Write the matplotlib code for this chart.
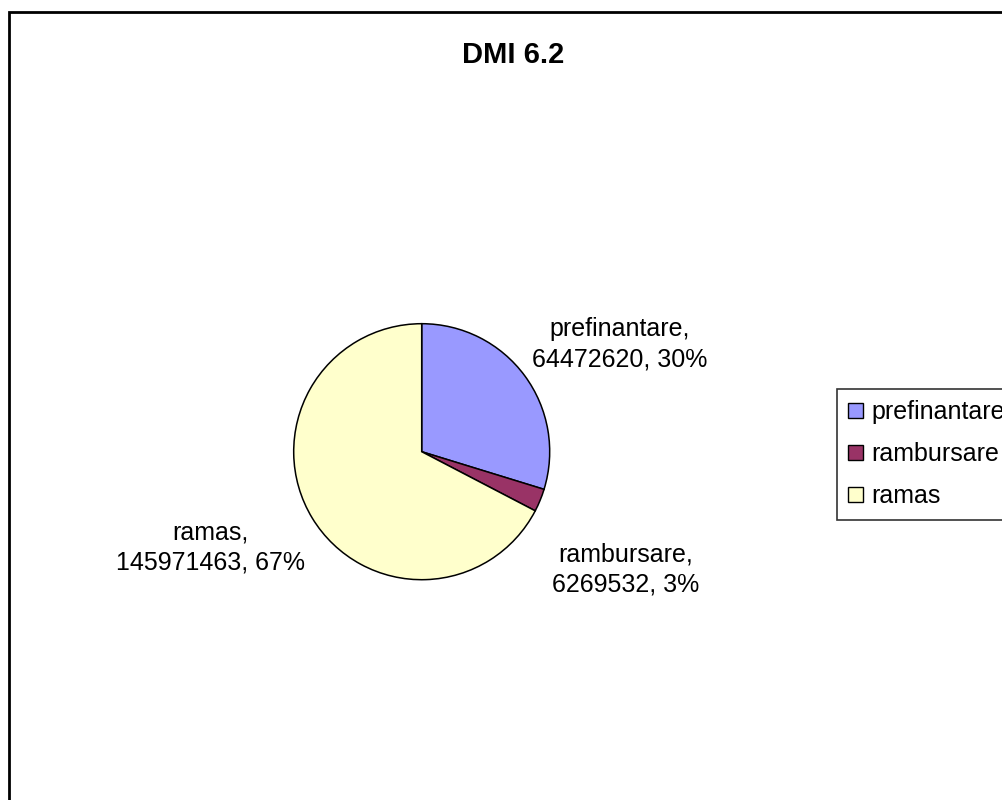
import matplotlib
matplotlib.use("Agg")
import matplotlib.pyplot as plt
from matplotlib.patches import Rectangle, Patch

# --- Dati ---
titolo = "DMI 6.2"
categorie = ["prefinantare", "rambursare", "ramas"]
valori = [64472620, 6269532, 145971463]
colori = ["#9999FF", "#993366", "#FFFFCC"]

# posizione etichette (in raggi, rispetto al centro della torta)
pos_etichette = [(1.55, 0.84), (1.59, -0.92), (-1.65, -0.75)]

plt.rcParams["font.family"] = ["Liberation Sans", "DejaVu Sans"]

W, H = 1003, 800
fig = plt.figure(figsize=(W / 100, H / 100), dpi=100)

# --- Cornice del grafico (esce dai bordi a destra e in basso) ---
fig.patches.append(Rectangle((9 / W, -0.05), 1.2, 1 - 12 / H + 0.05,
                             transform=fig.transFigure, fill=False,
                             edgecolor="black", linewidth=2.0))

# --- Torta ---
cx, cy, r = 421.7, 451.7, 128
ax = fig.add_axes([(cx - r) / W, (H - cy - r) / H, 2 * r / W, 2 * r / H])
ax.pie(valori, colors=colori, startangle=90, counterclock=False,
       wedgeprops=dict(edgecolor="black", linewidth=1.1))
ax.set_xlim(-1, 1)
ax.set_ylim(-1, 1)
ax.set_aspect("auto")
ax.axis("off")

totale = sum(valori)
for nome, v, (x, y) in zip(categorie, valori, pos_etichette):
    ax.text(x, y, f"{nome},\n{v}, {100 * v / totale:.0f}%", ha="center",
            va="center", fontsize=18, linespacing=1.3)

fig.text(513 / W, 1 - 55 / H, titolo, ha="center", va="center",
         fontsize=21, fontweight="bold")

# --- Legenda ---
maniglie = [Patch(facecolor=c, edgecolor="black", linewidth=1.0) for c in colori]
leg = fig.legend(maniglie, categorie, loc="upper left",
                 bbox_to_anchor=(837 / W, 1 - 389 / H), fontsize=18,
                 frameon=True, fancybox=False, borderaxespad=0,
                 handlelength=0.6, handleheight=0.6, handletextpad=0.32,
                 labelspacing=0.72, borderpad=0.45)
leg.get_frame().set_edgecolor("black")
leg.get_frame().set_linewidth(1.2)

fig.savefig("out.png", dpi=100)
